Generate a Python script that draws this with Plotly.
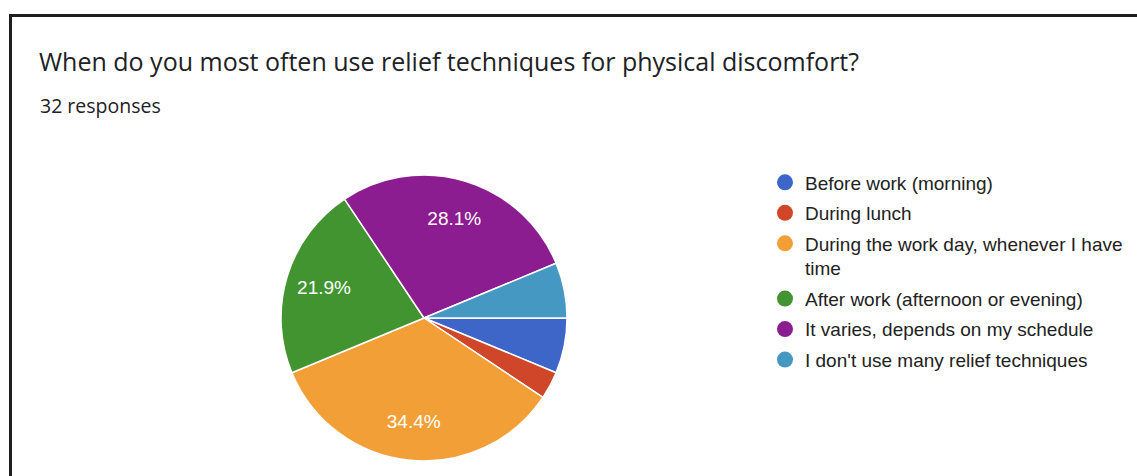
import plotly.graph_objects as go

labels = [
    "Before work (morning)",
    "During lunch",
    "During the work day, whenever I have<br>time",
    "After work (afternoon or evening)",
    "It varies, depends on my schedule",
    "I don't use many relief techniques",
]
counts = [2, 1, 11, 7, 9, 2]
colors = ["#3d66c8", "#cf4628", "#f29f38", "#429430", "#8b1d91", "#4598c2"]
title_text = "When do you most often use relief techniques for physical discomfort?"
subtitle_text = "32 responses"

W, H = 1137, 476
total = sum(counts)
templates = ["%{percent:.1%}" if c / total > 0.1 else "" for c in counts]
pie_domain = dict(x=[281 / W, 567 / W], y=[1 - 461 / H, 1 - 175 / H])

fig = go.Figure()
# solid pie (no text)
fig.add_trace(go.Pie(
    labels=labels,
    values=counts,
    sort=False,
    direction="clockwise",
    rotation=90,
    marker=dict(colors=colors, line=dict(color="white", width=1.5)),
    textinfo="none",
    showlegend=False,
    hoverinfo="label+percent",
    domain=pie_domain,
))
# transparent ring overlay used only to position percentage labels
fig.add_trace(go.Pie(
    labels=labels,
    values=counts,
    sort=False,
    direction="clockwise",
    rotation=90,
    hole=0.46,
    marker=dict(colors=["rgba(0,0,0,0)"] * len(counts), line=dict(width=0)),
    texttemplate=templates,
    textposition="inside",
    insidetextorientation="horizontal",
    textfont=dict(family="Liberation Sans", size=19, color="white"),
    showlegend=False,
    hoverinfo="skip",
    domain=pie_domain,
))

for i, (lab, col) in enumerate(zip(labels, colors)):
    fig.add_trace(go.Scatter(
        x=[None], y=[None], mode="markers", name=lab,
        legendgroup=f"g{i}",
        marker=dict(symbol="circle", size=18, color=col),
        showlegend=True,
    ))

fig.update_layout(
    width=W, height=H,
    margin=dict(l=0, r=0, t=0, b=0),
    paper_bgcolor="white",
    plot_bgcolor="white",
    xaxis=dict(visible=False),
    yaxis=dict(visible=False),
    legend=dict(
        x=765 / W, y=1 - 163.5 / H, xanchor="left", yanchor="top",
        font=dict(family="Liberation Sans", size=19, color="#222222"),
        tracegroupgap=2.8, valign="top", traceorder="grouped",
        bgcolor="rgba(0,0,0,0)",
    ),
    annotations=[
        dict(text=title_text, x=37 / W, y=1 - 61 / H, xref="paper", yref="paper",
             xanchor="left", yanchor="middle", showarrow=False,
             font=dict(family="Open Sans", size=25, color="#202124")),
        dict(text=subtitle_text, x=38 / W, y=1 - 105 / H, xref="paper", yref="paper",
             xanchor="left", yanchor="middle", showarrow=False,
             font=dict(family="Open Sans", size=19.5, color="#202124")),
    ],
    shapes=[
        dict(type="line", xref="paper", yref="paper", x0=9 / W, x1=1.0,
             y0=1 - 15.5 / H, y1=1 - 15.5 / H, line=dict(color="#1e1e1e", width=3)),
        dict(type="line", xref="paper", yref="paper", x0=10.5 / W, x1=10.5 / W,
             y0=1 - 14 / H, y1=0, line=dict(color="#1e1e1e", width=3)),
    ],
)

fig.write_html("out.html")
